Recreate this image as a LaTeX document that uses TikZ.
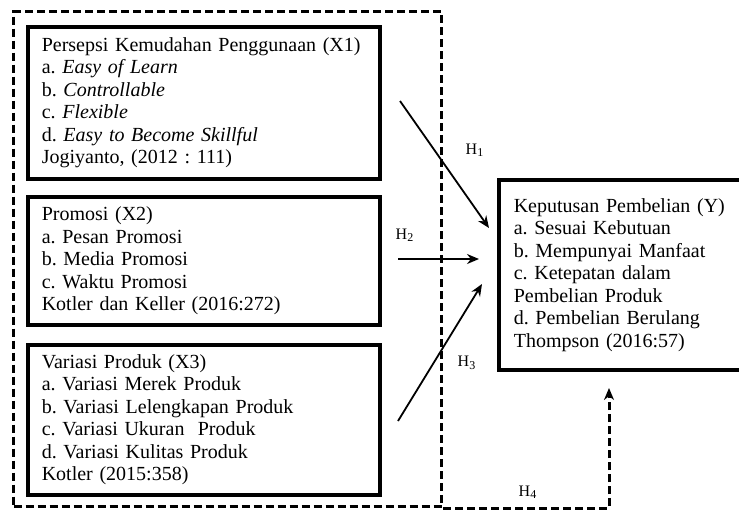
\documentclass[tikz,border=0pt]{standalone}
\usepackage{fontspec}
\setmainfont{Liberation Serif}
\usetikzlibrary{arrows.meta}
\frenchspacing

\begin{document}
\begin{tikzpicture}
	[x=0.5pt, y=-0.5pt, font=\fontsize{10}{11.25}\selectfont,
	 varbox/.style={draw, line width=1.8pt, anchor=north west, align=left, inner xsep=7pt, text width=162pt},
	 frame/.style={draw, line width=1.5pt, dash pattern=on 4pt off 2pt, anchor=north west, inner sep=0pt},
	 hyp/.style={-{Stealth[length=6pt,width=5pt]}, line width=0.9pt},
	 lbl/.style={font=\fontsize{8}{9}\selectfont, inner sep=0pt}]
   \useasboundingbox (0,0) rectangle (739,510);
   \node[frame, minimum width=214pt, minimum height=247.5pt] (grp) at (12,10) {};
   \node[varbox, minimum height=76pt] (x_1) at (26,25) {Persepsi Kemudahan Penggunaan (X1)\\
      a. \textit{Easy of Learn}\\ b. \textit{Controllable}\\ c. \textit{Flexible}\\
      d. \textit{Easy to Become Skillful}\\ Jogiyanto, (2012 : 111)};
   \node[varbox, minimum height=64pt] (x_2) at (26,195) {Promosi (X2)\\
      a. Pesan Promosi\\ b. Media Promosi\\ c. Waktu Promosi\\ Kotler dan Keller (2016:272)};
   \node[varbox, minimum height=75pt] (x_3) at (26,343) {Variasi Produk (X3)\\
      a. Variasi Merek Produk\\ b. Variasi Lelengkapan Produk\\ c. Variasi Ukuran\ \ Produk\\
      d. Variasi Kulitas Produk\\ Kotler (2015:358)};
   \node[varbox, text width=109pt, inner xsep=7.5pt, minimum height=95pt] (y) at (497,178) {Keputusan Pembelian (Y)\\
      a. Sesuai Kebutuan\\ b. Mempunyai Manfaat\\ c. Ketepatan dalam\\ Pembelian Produk\\
      d. Pembelian Berulang\\ Thompson (2016:57)};

   % free arrow ends
   \coordinate (h1s) at (400,101); \coordinate (h1e) at (489,228);
   \coordinate (h2s) at (398,259); \coordinate (h2e) at (479,259);
   \coordinate (h3s) at (398,421); \coordinate (h3e) at (482,284);
   \coordinate (h4e) at (609,388);

   \draw[hyp] (h1s) -- (h1e);
   \draw[hyp] (h2s) -- (h2e);
   \draw[hyp] (h3s) -- (h3e);
   \draw[hyp, line width=1.5pt, dash pattern=on 4pt off 2pt] (grp.south east) -| (h4e);

   \node[lbl] (l_1) at (475,150) {H\textsubscript{1}};
   \node[lbl] (l_2) at (405,235) {H\textsubscript{2}};
   \node[lbl] (l_3) at (467,363) {H\textsubscript{3}};
   \node[lbl] (l_4) at (528,492) {H\textsubscript{4}};
\end{tikzpicture}
\end{document}
